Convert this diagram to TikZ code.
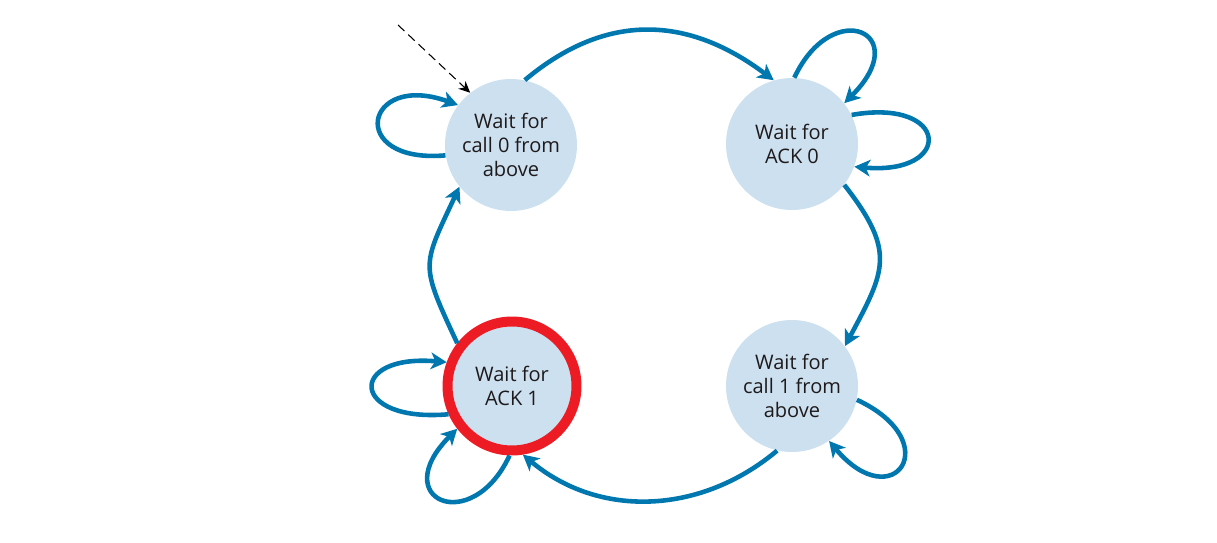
\documentclass[tikz,border=0pt]{standalone}
\usepackage{xcolor}
\usepackage{fontspec}
\setmainfont{Open Sans}
\usepackage{tikz}
\usetikzlibrary{arrows.meta}

\definecolor{ackblue}{RGB}{0,119,174}
\definecolor{ackfill}{RGB}{205,224,239}
\definecolor{ackred}{RGB}{237,28,36}
\definecolor{acktext}{RGB}{30,26,27}

\tikzset{
	waitstate/.style={circle, fill=ackfill, minimum size=2.64cm, inner sep=0, align=center, text=acktext, font=\fontsize{11.4}{13.6}\selectfont},
	trans/.style={draw=ackblue, line width=2.6pt, -{Stealth[length=9pt, width=9.5pt, inset=2.5pt]}},
}

\begin{document}
\begin{tikzpicture}[x=0.02cm, y=0.02cm]
	\useasboundingbox (0,0) rectangle (1217,542);
	% States:
	\node[waitstate] (W0) at (511,397) {Wait for\\call 0 from\\above};
	\node[waitstate] (A0) at (792,398) {Wait for\\ACK 0};
	\node[waitstate] (W1) at (792,156) {Wait for\\call 1 from\\above};
	\node[waitstate, draw=ackred, line width=0.2cm, minimum size=2.58cm] (A1) at (512,156) {Wait for\\ACK 1};
	\coordinate (Init) at (398,517);
	% Initial arrow:
	\draw[line width=0.6pt, dash pattern=on 5pt off 3pt, -{Stealth[length=6.5pt, width=6pt]}] (Init) -- (W0.128);
	% Transitions between states:
	\draw[trans] (W0.78) to[out=40, in=143, looseness=1.1] (A0.106);
	\draw[trans] (A0.-38) to[out=-52, in=62, looseness=1.35] (W1.37);
	\draw[trans] (W1.-103) to[out=220, in=-40] (A1.-81);
	\draw[trans] (A1.142) to[out=115, in=245, looseness=1.45] (W0.219);
	% Self loops:
	\draw[trans] (W0.189) .. controls +(185:100) and +(160:100) .. (W0.143);
	\draw[trans] (A0.88) .. controls +(65:90) and +(45:100) .. (A0.38);
	\draw[trans] (A0.26) .. controls +(10:100) and +(-5:100) .. (A0.-20);
	\draw[trans] (A1.204) .. controls +(185:100) and +(175:100) .. (A1.160);
	\draw[trans] (A1.268) .. controls +(245:90) and +(225:100) .. (A1.218);
	\draw[trans] (W1.-12) .. controls +(-25:100) and +(-50:100) .. (W1.-56);
\end{tikzpicture}
\end{document}
